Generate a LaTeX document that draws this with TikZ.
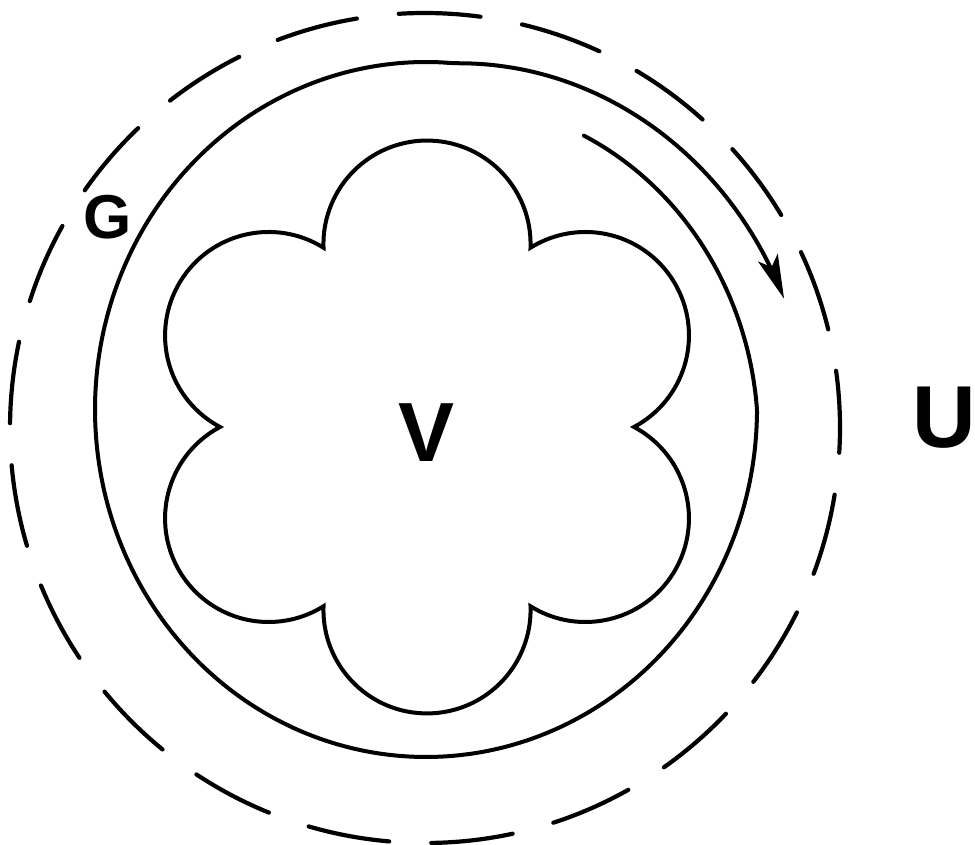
\documentclass[tikz,border=0pt]{standalone}
\usepackage{fontspec}
\setmainfont{Liberation Sans}
\usetikzlibrary{arrows.meta}

\begin{document}
\begin{tikzpicture}[
    x=1pt, y=1pt,
    declare function={goff(\t)=min(0,-0.46*\t)+max(0,0.62*(-275-\t));},
    dashring/.style={line width=4.2pt, line cap=round, dash pattern=on 82pt off 42.17pt},
    gline/.style={line width=4pt, line cap=round},
    lobeline/.style={line width=4pt, line join=miter},
    lbl/.style={inner sep=0pt}
  ]
  \useasboundingbox (0,0) rectangle (975,845);
  \coordinate (O) at (425,417);
  \coordinate (F) at (426,418);
  % outer dashed circle U
  \draw[dashring] (O) ++(-3.4:415) arc[start angle=-3.4, delta angle=360, radius=415];
  % boundary of G, open at the top right, with its arrow
  \draw[gline, -{Stealth[length=44pt, width=21pt, inset=10pt]}]
    plot[domain=58.7:-343.5, samples=240, smooth, variable=\t]
      ({426+(331+goff(\t))*cos(\t)}, {435.5+(347.5+goff(\t))*sin(\t)});
  % six-lobed region V
  \draw[lobeline] (F) ++(0:208)
    \foreach \a in {30,90,...,330} {arc[start angle=\a-92, end angle=\a+92, radius=103.56]} -- cycle;
  \node[lbl, font=\bfseries\fontsize{62}{62}\selectfont] (g) at (107.5,628) {G};
  \node[lbl, font=\bfseries\fontsize{84}{84}\selectfont] (v) at (426.5,412) {V};
  \node[lbl, font=\bfseries\fontsize{88}{88}\selectfont] (u) at (944.5,427.5) {U};
\end{tikzpicture}
\end{document}
